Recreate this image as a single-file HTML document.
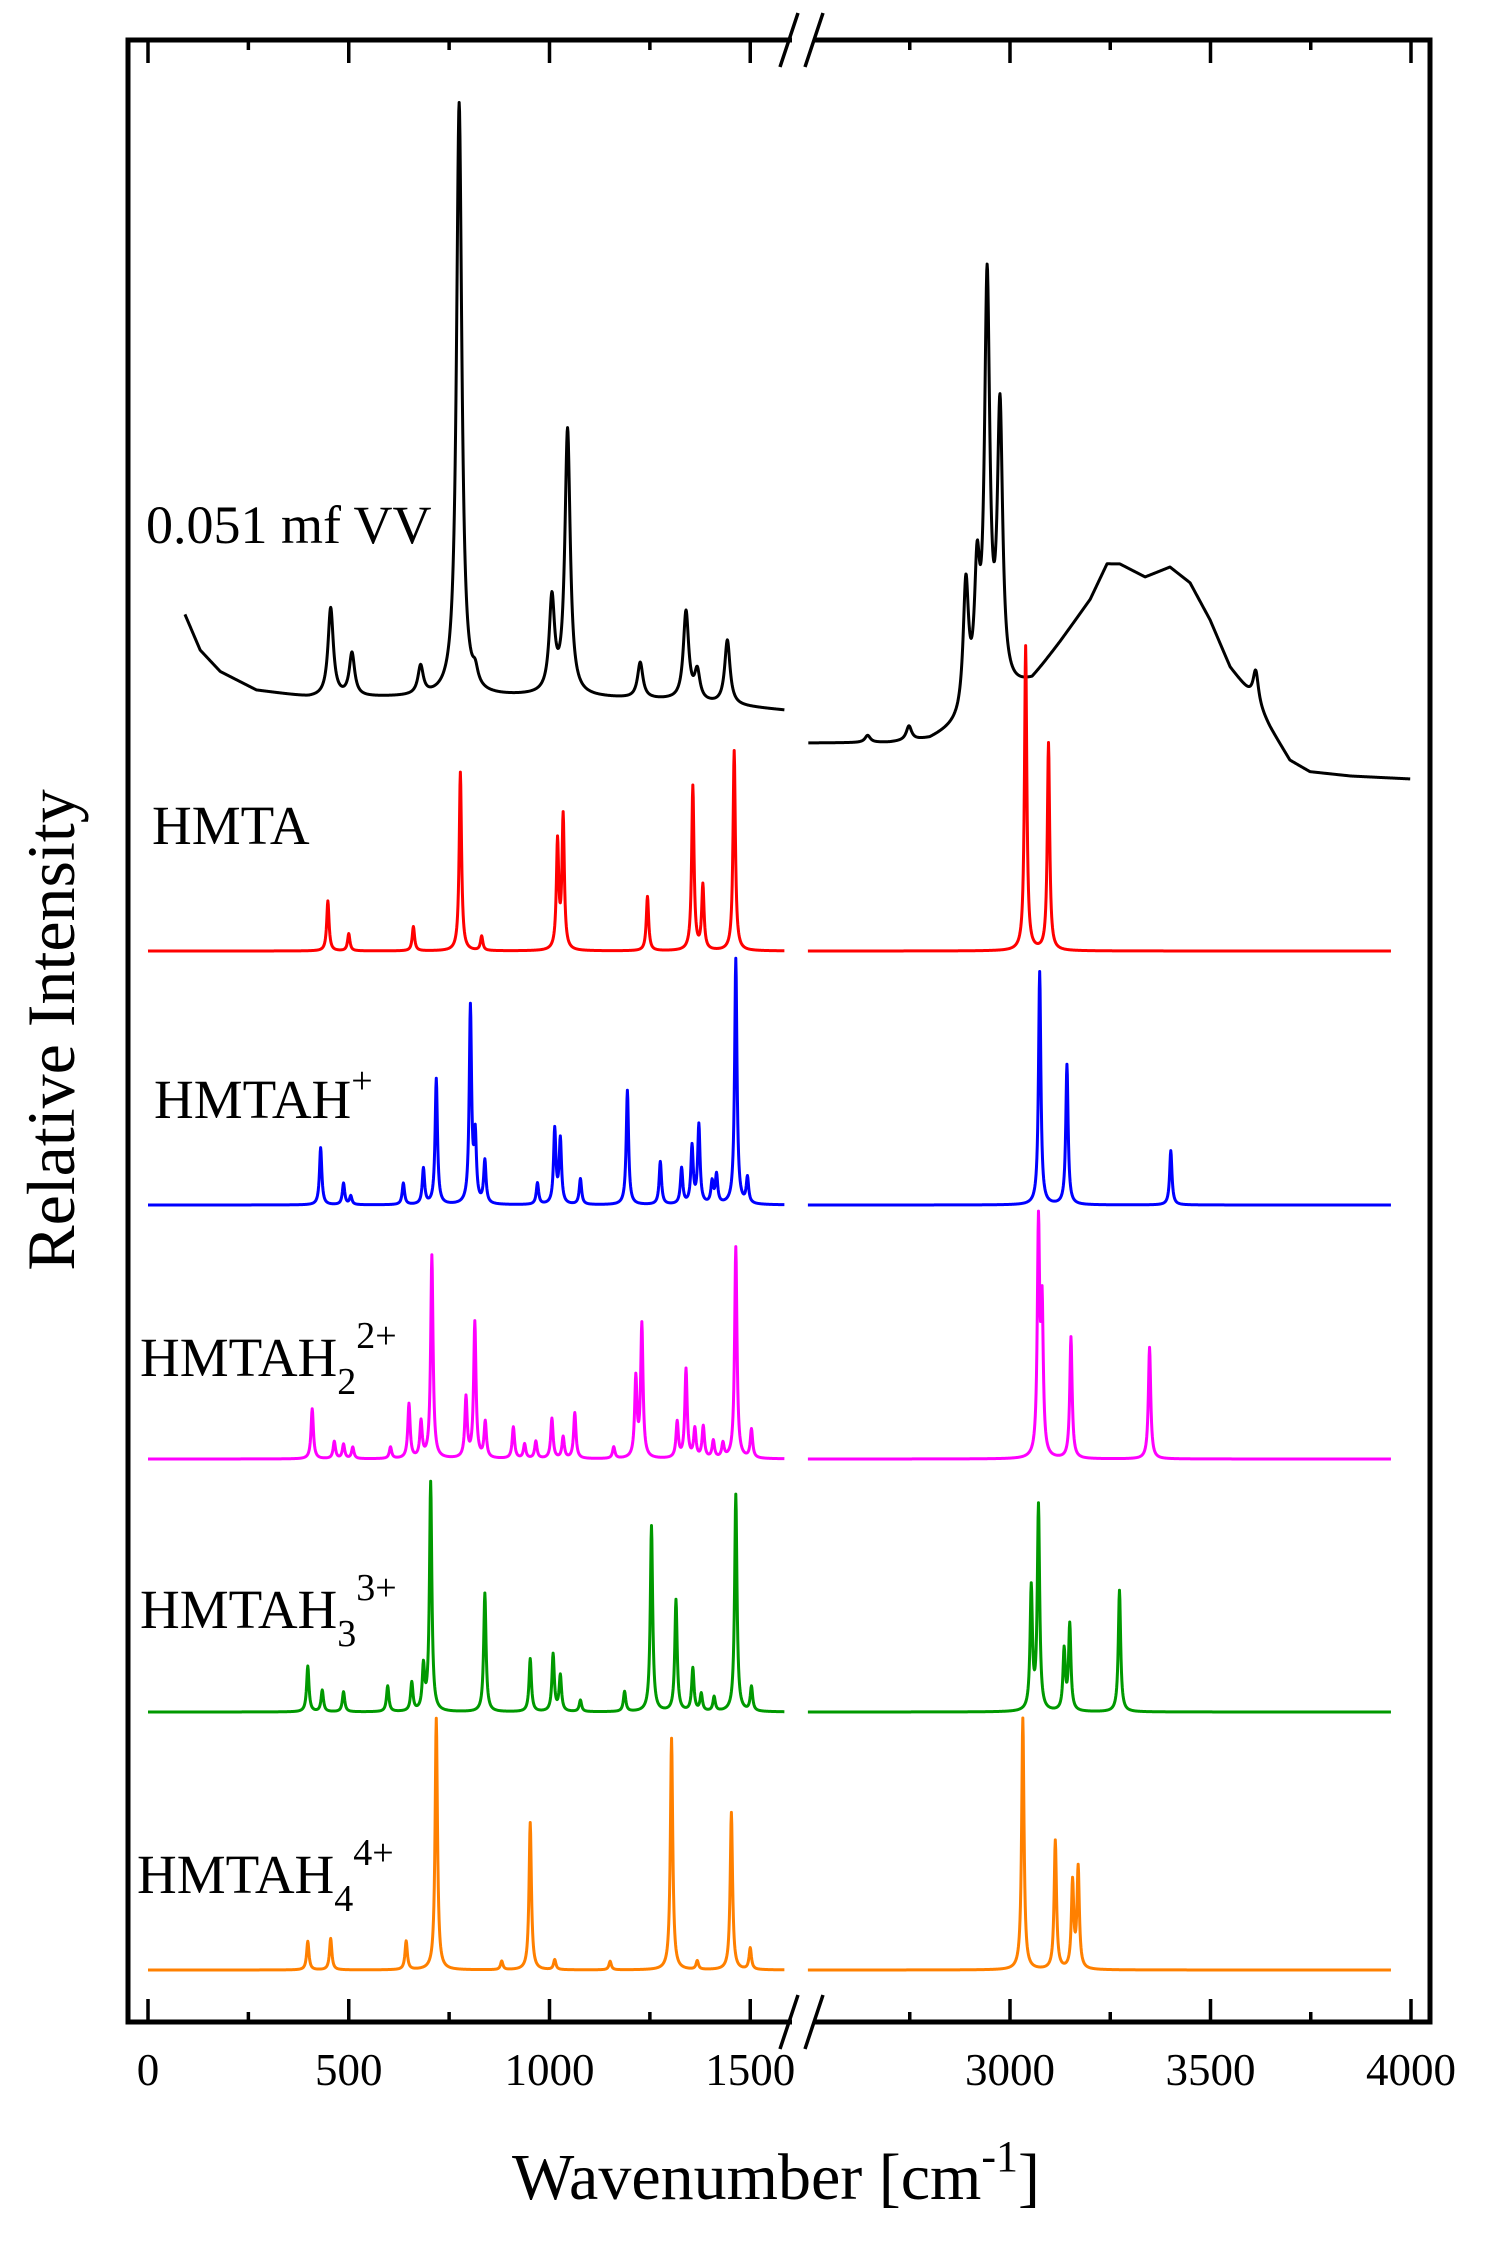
<!DOCTYPE html>
<html><head><meta charset="utf-8"><style>
html,body{margin:0;padding:0;background:#fff;}
svg{display:block;font-family:"Liberation Serif",serif;}
</style></head><body>
<svg id="chart" width="1487" height="2246" viewBox="0 0 1487 2246" xmlns="http://www.w3.org/2000/svg">
<g id="plot"></g>
<g id="axes"></g>
</svg>
<script>
// ---- data (wavenumber cm-1, relative intensity units) ----
const tickLabels = ["0","500","1000","1500","3000","3500","4000"];
const tickValues = [0,500,1000,1500,3000,3500,4000];
const minorTicks = [250,750,1250,2750,3250,3750];

const hmtaPos = [448,500,661,778,831,1020,1034,1244,1357,1382,1460,3039,3096];
const hmtaInt = [35,12,17,125,10,75,93,38,115,45,140,213,145];

const hmtah1Pos = [430,487,505,636,686,718,803,815,839,970,1013,1027,1077,1194,1276,1329,1355,1372,1405,1416,1464,1493,3074,3142,3401];
const hmtah1Int = [40,15,6,15,25,88,137,45,30,15,52,45,18,80,30,25,40,55,15,20,172,18,163,98,38];

const hmtah2Pos = [409,464,487,510,604,650,680,707,792,814,840,910,938,966,1006,1034,1063,1160,1215,1230,1318,1340,1362,1383,1408,1432,1464,1503,3071,3080,3152,3348];
const hmtah2Int = [35,12,10,8,8,38,25,142,42,95,25,22,10,12,28,15,32,8,55,93,25,62,20,22,12,10,148,20,160,100,85,78];

const hmtah3Pos = [398,434,487,597,657,686,704,839,952,1009,1027,1077,1187,1254,1315,1357,1378,1410,1464,1503,3053,3071,3135,3149,3273];
const hmtah3Int = [32,15,14,18,20,30,160,83,37,40,25,8,14,130,78,30,12,10,152,17,85,143,42,60,85];

const hmtah4Pos = [398,455,643,718,881,952,1013,1151,1304,1368,1453,1500,3032,3113,3156,3170];
const hmtah4Int = [20,22,20,176,6,103,7,6,162,6,110,15,176,90,60,70];

const expPos = [455,508,679,775,815,1006,1045,1226,1340,1368,1443,2645,2748,2890,2918,2943,2975,3613];
const expInt = [62,30,20,415,10,65,185,25,62,20,45,5,10,90,85,290,195,22];
const expBgX = [92,130,180,270,400,700,1000,1300,1585,2497,2700,2800,2870,2950,3000,3055,3125,3200,3242,3274,3337,3399,3449,3499,3549,3611,3648,3698,3748,3850,3998];
const expBgY = [115,90,75,62,57,57,58,55,48,25,25,27,35,50,60,68,95,125,150,150,141,148,137,111,78,55,36,13,5,2,0];

// ---- geometry ----
const S = 1.43; // px per intensity unit
function xScale(w){ return w<=2000 ? 148 + w*0.4015 : 1010 + (w-3000)*0.401; }
function lor(x, pos, ints, g){ let s=0; for(let i=0;i<pos.length;i++){const d=x-pos[i]; s+=ints[i]*g*g/(d*d+g*g);} return s; }
function interp(x, xs, ys){ if(x<=xs[0]) return ys[0]; for(let i=1;i<xs.length;i++){ if(x<=xs[i]){const t=(x-xs[i-1])/(xs[i]-xs[i-1]); return ys[i-1]+t*(ys[i]-ys[i-1]);}} return ys[ys.length-1]; }
const NS="http://www.w3.org/2000/svg";
const plot=document.getElementById('plot'), axes=document.getElementById('axes');
function el(tag, attrs, parent){ const e=document.createElementNS(NS,tag); for(const k in attrs) e.setAttribute(k,attrs[k]); parent.appendChild(e); return e; }

function drawSeries(name, pos, ints, base, color, g, ranges, bgX, bgY){
  for(const [a,b] of ranges){
    let d="";
    for(let x=a;x<=b;x+=1){
      let v=lor(x,pos,ints,g); if(bgX) v+=interp(x,bgX,bgY);
      d+=(x===a?"M":"L")+xScale(x).toFixed(2)+","+(base-v*S).toFixed(2);
    }
    const p=el('path',{d:d,fill:'none',stroke:color,'stroke-width':3,'stroke-linejoin':'round'},plot);
    
    
  }
}
const R=[[0,1585],[2496,3950]];
drawSeries('exp-vv', expPos, expInt, 779, '#000', 8, [[92,1585],[2497,3998]], expBgX, expBgY);
drawSeries('hmta', hmtaPos, hmtaInt, 951, '#ff0000', 3.5, R);
drawSeries('hmtah1', hmtah1Pos, hmtah1Int, 1205, '#0000ff', 3.5, R);
drawSeries('hmtah2', hmtah2Pos, hmtah2Int, 1459, '#ff00ff', 3.5, R);
drawSeries('hmtah3', hmtah3Pos, hmtah3Int, 1712, '#009900', 3.5, R);
drawSeries('hmtah4', hmtah4Pos, hmtah4Int, 1970, '#ff8000', 3.5, R);

// ---- frame ----
const L=128,Rt=1430,T=40,B=2022;
let f=el('rect',{x:L,y:T,width:Rt-L,height:B-T,fill:'none',stroke:'#000','stroke-width':5},axes);
 
for(const v of tickValues){
  const x=xScale(v);
  let t1=el('line',{x1:x,y1:B,x2:x,y2:B-23,stroke:'#000','stroke-width':3.5},axes);
   
  let t2=el('line',{x1:x,y1:T,x2:x,y2:T+23,stroke:'#000','stroke-width':3.5},axes);
   
}
for(const v of minorTicks){
  const x=xScale(v);
  let t1=el('line',{x1:x,y1:B,x2:x,y2:B-10,stroke:'#000','stroke-width':3.5},axes);
   
  let t2=el('line',{x1:x,y1:T,x2:x,y2:T+10,stroke:'#000','stroke-width':3.5},axes);
   
}
tickValues.forEach((v,i)=>{
  const t=el('text',{x:xScale(v),y:2085,'text-anchor':'middle','font-size':45},axes);
  t.textContent=tickLabels[i];
   
});
// axis breaks
for(const y of [T,B]){
  let w=el('rect',{x:792,y:y-5,width:22,height:10,fill:'#fff'},axes);
   
  let s1=el('line',{x1:780,y1:y+27,x2:798,y2:y-27,stroke:'#000','stroke-width':3.5},axes);
   
  let s2=el('line',{x1:805,y1:y+27,x2:823,y2:y-27,stroke:'#000','stroke-width':3.5},axes);
   
}
</script>
<svg style="position:absolute;left:0;top:0" width="1487" height="2246" font-family="Liberation Serif, serif">
<text x="776" y="2199" text-anchor="middle" font-size="66">Wavenumber [cm<tspan dy="-28" font-size="44">-1</tspan><tspan dy="28">]</tspan></text>
<text transform="translate(74,1030) rotate(-90)" text-anchor="middle" font-size="68">Relative Intensity</text>
<text x="146" y="543" font-size="54">0.051 mf VV</text>
<text x="152" y="844" font-size="55">HMTA</text>
<text x="154" y="1118" font-size="55">HMTAH<tspan dy="-25" font-size="38">+</tspan></text>
<text x="140" y="1376" font-size="55">HMTAH<tspan dy="18" font-size="38">2</tspan><tspan dy="-46" font-size="38">2+</tspan></text>
<text x="140" y="1628" font-size="55">HMTAH<tspan dy="18" font-size="38">3</tspan><tspan dy="-46" font-size="38">3+</tspan></text>
<text x="137" y="1893" font-size="55">HMTAH<tspan dy="18" font-size="38">4</tspan><tspan dy="-46" font-size="38">4+</tspan></text>
</svg>
</body></html>
